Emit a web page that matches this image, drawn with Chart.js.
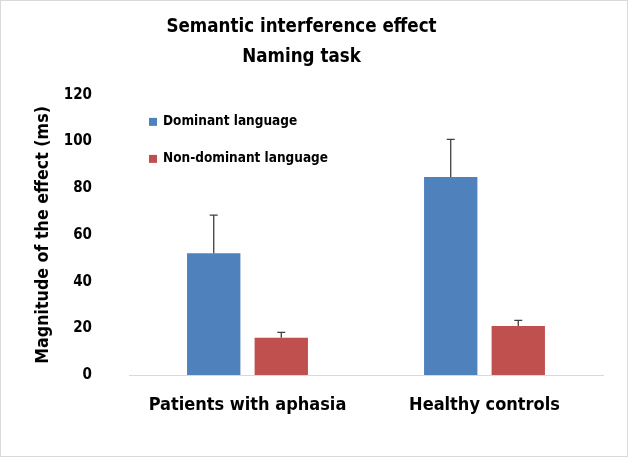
<!DOCTYPE html>
<html>
<head>
<meta charset="utf-8">
<script src="https://cdn.jsdelivr.net/npm/chart.js@4"></script>
<style>
  html, body { margin: 0; padding: 0; background: #fff; }
  #wrap { width: 628px; height: 457px; }
</style>
</head>
<body>
<div id="wrap"><canvas id="chart" width="628" height="457"></canvas></div>
<script>
// data
const groups = ['Patients with aphasia', 'Healthy controls'];
const seriesNames = ['Dominant language', 'Non-dominant language'];
const dominant = [52.2, 84.8];
const nonDominant = [16.0, 21.0];
const dominantErr = [16.3, 16.1];
const nonDominantErr = [2.3, 2.4];
const yTicks = [0, 20, 40, 60, 80, 100, 120];

const FONT = "'DejaVu Sans Condensed', 'Liberation Sans Narrow', sans-serif";

// upward-only error bars, drawn from each bar through the y scale
const errorBars = {
    id: 'errorBars',
    afterDatasetsDraw(chart) {
        const ctx = chart.ctx;
        const yScale = chart.scales.y;
        ctx.save();
        ctx.strokeStyle = '#404040';
        ctx.lineWidth = 1.3;
        chart.data.datasets.forEach((ds, i) => {
            const meta = chart.getDatasetMeta(i);
            meta.data.forEach((bar, j) => {
                const top = yScale.getPixelForValue(ds.data[j] + ds.errors[j]);
                ctx.beginPath();
                ctx.moveTo(bar.x, bar.y);
                ctx.lineTo(bar.x, top);
                ctx.moveTo(bar.x - 4, top);
                ctx.lineTo(bar.x + 4, top);
                ctx.stroke();
            });
        });
        ctx.restore();
    }
};

// legend inside the plot, stacked, plus the light frame round the chart
const insideLegend = {
    id: 'insideLegend',
    afterDraw(chart) {
        const ctx = chart.ctx;
        const area = chart.chartArea;
        ctx.save();
        chart.data.datasets.forEach((ds, i) => {
            const y = area.top + 27 + i * 37;
            ctx.fillStyle = ds.backgroundColor;
            ctx.fillRect(area.left + 20, y - 4, 8, 8);
            ctx.fillStyle = '#000';
            ctx.font = 'bold 13.5px ' + FONT;
            ctx.textBaseline = 'middle';
            ctx.fillText(ds.label, area.left + 34, y);
        });
        ctx.strokeStyle = '#d9d9d9';
        ctx.lineWidth = 1;
        ctx.strokeRect(0.5, 0.5, chart.width - 1, chart.height - 1);
        ctx.restore();
    }
};

const ctx = document.getElementById('chart').getContext('2d');
new Chart(ctx, {
    type: 'bar',
    data: {
        labels: groups,
        datasets: [{
            label: seriesNames[0],
            data: dominant,
            errors: dominantErr,
            backgroundColor: '#4F81BD'
        }, {
            label: seriesNames[1],
            data: nonDominant,
            errors: nonDominantErr,
            backgroundColor: '#C0504D'
        }]
    },
    options: {
        responsive: false,
        animation: false,
        categoryPercentage: 0.57,
        barPercentage: 0.79,
        layout: { padding: { left: 0, right: 25, top: 0, bottom: 0 } },
        plugins: {
            legend: { display: false },
            tooltip: { enabled: false },
            title: {
                display: true,
                text: ['Semantic interference effect', 'Naming task'],
                color: '#000',
                font: { family: FONT, size: 18.6, weight: 'bold', lineHeight: 1.65 },
                padding: { top: 11.5, bottom: 22 }
            }
        },
        scales: {
            x: {
                grid: { display: false },
                border: { display: true, color: '#d9d9d9' },
                ticks: {
                    color: '#000',
                    padding: 12,
                    font: { family: FONT, size: 18, weight: 'bold' }
                },
                afterFit(scale) { scale.height = 82; }
            },
            y: {
                min: 0,
                max: 120,
                afterBuildTicks(scale) { scale.ticks = yTicks.map(v => ({ value: v })); },
                grid: { display: false, drawTicks: false },
                border: { display: false },
                ticks: {
                    color: '#000',
                    padding: 37,
                    font: { family: FONT, size: 15, weight: 'bold' }
                },
                title: {
                    display: true,
                    text: 'Magnitude of the effect (ms)',
                    color: '#000',
                    font: { family: FONT, size: 17.7, weight: 'bold' },
                    padding: { top: 33, bottom: 0 }
                },
                afterFit(scale) { scale.width = 129; }
            }
        }
    },
    plugins: [errorBars, insideLegend]
});
</script>
</body>
</html>
